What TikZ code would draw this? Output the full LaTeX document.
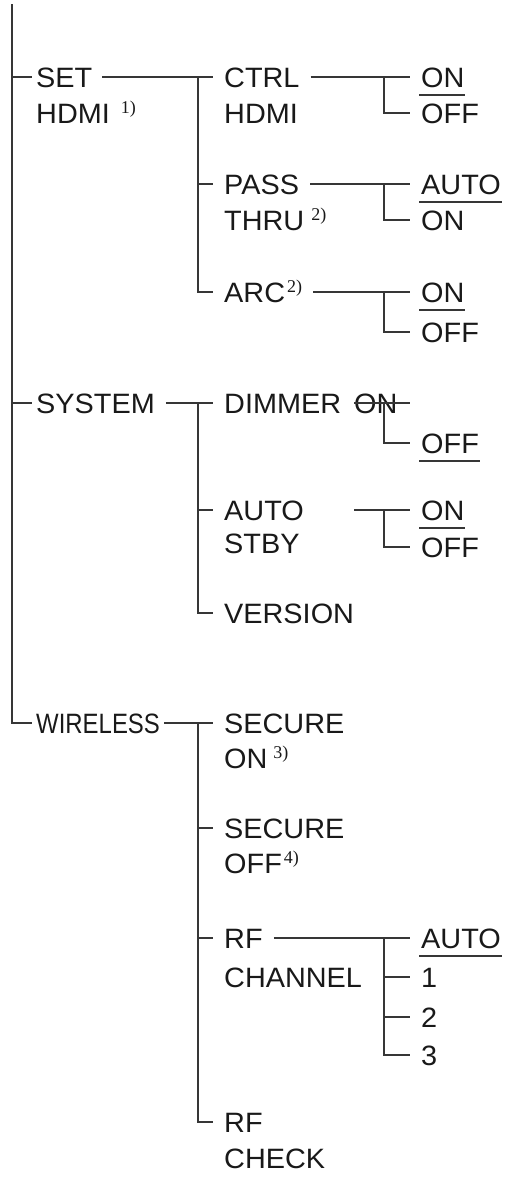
\documentclass[tikz,border=0pt]{standalone}
\usepackage{fontspec}
\setmainfont{Liberation Sans}[FakeStretch=1.03]
\newfontfamily\notefont{Liberation Serif}
\usepackage{graphicx}
\usetikzlibrary{positioning}
\definecolor{lncol}{HTML}{363636}
\newcommand{\fnote}[2][0pt]{\kern#1\raisebox{10pt}{\notefont\fontsize{18}{18}\selectfont #2)}}
\newcommand{\dflt}[1]{\setbox0\hbox{#1}\rlap{\kern-2pt\textcolor{lncol}{\rule[-9pt]{\dimexpr\wd0+3pt\relax}{2pt}}}\box0}
\tikzstyle{line}=[-, line width=2pt, draw=lncol]
\tikzstyle{item}=[anchor=base west, inner xsep=11pt, inner ysep=0pt,
		text height=20pt, text depth=0pt, text=black!90,
		font=\fontsize{28}{36}\selectfont]
\tikzstyle{topitem}=[item, inner xsep=4pt]
\begin{document}
\begin{tikzpicture}[x=1pt,y=-1pt]
    \useasboundingbox (0,0) rectangle (509,1178);

    \coordinate (Top) at (12,4);
    \coordinate (B2) at (198,0);
    \coordinate (B3) at (384,0);

    % first level
    \node (Set) [topitem] at (32,87) {SET};
    \node (SetB) [item, inner xsep=4pt, below=16pt of Set.south west, anchor=north west] {HDMI\fnote[11pt]{1}};
    \node (System) [topitem] at (32,413) {SYSTEM};
    \node (Wireless) [topitem] at (32,733) {\scalebox{0.83}[1]{WIRELESS}};

    \draw[line] (Top) |- (Wireless.west);
    \draw[line] (Top |- Set.west) -- (Set.west);
    \draw[line] (Top |- System.west) -- (System.west);

    % SET HDMI
    \node (Ctrl) [item] at (213,87) {CTRL};
    \node (CtrlB) [item, below=16pt of Ctrl.south west, anchor=north west] {HDMI};
    \node (Pass) [item] at (213,194) {PASS};
    \node (PassB) [item, below=16pt of Pass.south west, anchor=north west] {THRU\fnote[7pt]{2}};
    \node (Arc) [item] at (213,302) {ARC\fnote[2pt]{2}};

    \draw[line] ([xshift=6pt]Set.east) -- (Ctrl.west);
    \draw[line] (B2 |- Ctrl.west) |- (Arc.west);
    \draw[line] (B2 |- Pass.west) -- (Pass.west);

    \node (CtrlOn) [item] at (410,87) {\dflt{ON}};
    \node (CtrlOff) [item] at (410,123) {OFF};
    \draw[line] (Ctrl.east) -- (CtrlOn.west);
    \draw[line] (B3 |- CtrlOn.west) |- (CtrlOff.west);

    \node (PassAuto) [item] at (410,194) {\dflt{AUTO}};
    \node (PassOn) [item] at (410,230) {ON};
    \draw[line] (Pass.east) -- (PassAuto.west);
    \draw[line] (B3 |- PassAuto.west) |- (PassOn.west);

    \node (ArcOn) [item] at (410,302) {\dflt{ON}};
    \node (ArcOff) [item] at (410,342) {OFF};
    \draw[line] (Arc.east) -- (ArcOn.west);
    \draw[line] (B3 |- ArcOn.west) |- (ArcOff.west);

    % SYSTEM
    \node (Dim) [item] at (213,413) {DIMMER};
    \node (Stby) [item] at (213,520) {AUTO};
    \node (StbyB) [item, below=13pt of Stby.south west, anchor=north west] {STBY};
    \node (Version) [item] at (213,623) {VERSION};

    \draw[line] ([xshift=7pt]System.east) -- (Dim.west);
    \draw[line] (B2 |- Dim.west) |- (Version.west);
    \draw[line] (B2 |- Stby.west) -- (Stby.west);

    \node (DimOn) [item, inner xsep=0pt] at (354,413) {ON};
    \node (DimOff) [item] at (410,453) {\dflt{OFF}};
    \draw[line] (DimOn.west) -- (DimOn.west -| DimOff.west);
    \draw[line] (B3 |- DimOn.west) |- (DimOff.west);

    \node (StbyOn) [item] at (410,520) {\dflt{ON}};
    \node (StbyOff) [item] at (410,557) {OFF};
    \draw[line] (DimOn.west |- StbyOn.west) -- (StbyOn.west);
    \draw[line] (B3 |- StbyOn.west) |- (StbyOff.west);

    % WIRELESS
    \node (SecOn) [item] at (213,733) {SECURE};
    \node (SecOnB) [item, below=15pt of SecOn.south west, anchor=north west] {ON\fnote[6pt]{3}};
    \node (SecOff) [item] at (213,838) {SECURE};
    \node (SecOffB) [item, below=15pt of SecOff.south west, anchor=north west] {OFF\fnote[2pt]{4}};
    \node (Chan) [item] at (213,948) {RF};
    \node (ChanB) [item, below=19pt of Chan.south west, anchor=north west] {CHANNEL};
    \node (Check) [item] at (213,1132) {RF};
    \node (CheckB) [item, below=16pt of Check.south west, anchor=north west] {CHECK};

    \draw[line] (Wireless.east) -- (SecOn.west);
    \draw[line] (B2 |- SecOn.west) |- (Check.west);
    \draw[line] (B2 |- SecOff.west) -- (SecOff.west);
    \draw[line] (B2 |- Chan.west) -- (Chan.west);

    \node (ChAuto) [item] at (410,948) {\dflt{AUTO}};
    \node (Ch1) [item] at (410,987) {1};
    \node (Ch2) [item] at (410,1027) {2};
    \node (Ch3) [item] at (410,1065) {3};
    \draw[line] (Chan.east) -- (ChAuto.west);
    \draw[line] (B3 |- ChAuto.west) |- (Ch3.west);
    \foreach \ch in {Ch1,Ch2}
        \draw[line] (B3 |- \ch.west) -- (\ch.west);

\end{tikzpicture}
\end{document}
